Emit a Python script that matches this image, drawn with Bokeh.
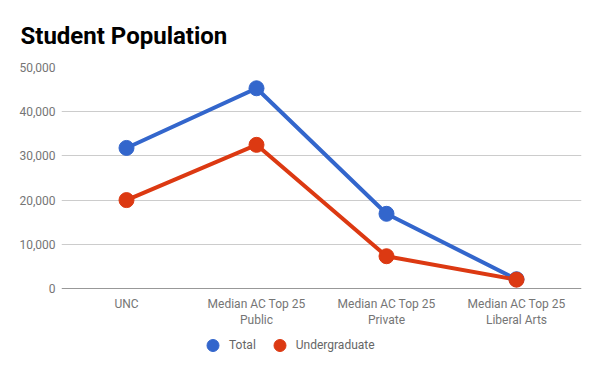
from bokeh.plotting import figure
from bokeh.layouts import column
from bokeh.models import (ColumnDataSource, FixedTicker, NumeralTickFormatter, Span,
                          Legend, LegendItem, Range1d)
from bokeh.embed import file_html
from bokeh.resources import INLINE

categories = ["UNC", "Median AC Top 25\nPublic", "Median AC Top 25\nPrivate",
              "Median AC Top 25\nLiberal Arts"]
series_names = ["Total", "Undergraduate"]
total = [31800, 45300, 16900, 2100]
undergraduate = [20000, 32500, 7300, 2000]
y_ticks = [0, 10000, 20000, 30000, 40000, 50000]

BLUE = "#3366cc"
RED = "#dc3912"
GRAY = "#757575"

xs = list(range(len(categories)))
src = ColumnDataSource(dict(x=xs, total=total, undergraduate=undergraduate))

p = figure(width=600, height=330, output_backend="svg", toolbar_location=None,
           x_range=Range1d(-0.5, len(categories) - 0.5), y_range=Range1d(0, 50000),
           min_border_left=61, min_border_right=19, min_border_top=67, min_border_bottom=41)

p.title.text = "Student Population"
p.title.text_font = "Roboto"
p.title.text_font_size = "24px"
p.title.text_font_style = "bold"
p.title.text_color = "#000000"
p.title.offset = -41
p.title.standoff = 36

p.outline_line_color = None

p.line("x", "total", source=src, line_color=BLUE, line_width=4)
p.line("x", "undergraduate", source=src, line_color=RED, line_width=4)
p.scatter("x", "total", source=src, size=15, fill_color=BLUE, line_color=BLUE)
p.scatter("x", "undergraduate", source=src, size=15, fill_color=RED, line_color=RED)

p.add_layout(Span(location=0, dimension="width", line_color="#333333", line_width=1))

p.yaxis.ticker = FixedTicker(ticks=y_ticks)
p.yaxis.formatter = NumeralTickFormatter(format="0,0")
p.yaxis.axis_line_color = None
p.yaxis.major_tick_line_color = None
p.yaxis.minor_tick_line_color = None
p.yaxis.major_tick_out = 0
p.yaxis.major_tick_in = 0
p.yaxis.minor_tick_out = 0
p.yaxis.major_label_text_font = "Roboto"
p.yaxis.major_label_text_font_size = "12px"
p.yaxis.major_label_text_color = GRAY
p.yaxis.major_label_standoff = 6

p.xaxis.ticker = FixedTicker(ticks=xs)
p.xaxis.major_label_overrides = {i: c for i, c in zip(xs, categories)}
p.xaxis.axis_line_color = None
p.xaxis.major_tick_line_color = None
p.xaxis.minor_tick_line_color = None
p.xaxis.major_tick_out = 0
p.xaxis.major_tick_in = 0
p.xaxis.minor_tick_out = 0
p.xaxis.major_label_text_font = "Roboto"
p.xaxis.major_label_text_font_size = "12px"
p.xaxis.major_label_text_color = GRAY
p.xaxis.major_label_standoff = 8

p.xgrid.grid_line_color = None
p.ygrid.grid_line_color = "#cccccc"
p.ygrid.ticker = FixedTicker(ticks=y_ticks)

# legend strip below the chart (its frame is aligned with the chart's frame)
lf = figure(width=600, height=41, output_backend="svg", toolbar_location=None,
            x_axis_location=None, y_axis_location=None, min_border=0,
            x_range=Range1d(0, 1), y_range=Range1d(0, 1))
lf.outline_line_color = None
lf.grid.grid_line_color = None
hidden = ColumnDataSource(dict(x=[-10], y=[-10]))
items = []
for name, col in zip(series_names, [BLUE, RED]):
    r = lf.scatter("x", "y", source=hidden, size=15, fill_color=col, line_color=col)
    items.append(LegendItem(label=name, renderers=[r]))
legend = Legend(items=items, orientation="horizontal", location=(135, 11),
                label_text_font="Roboto", label_text_font_size="12px",
                label_text_color="#666666", glyph_width=33, glyph_height=30,
                label_standoff=0, spacing=7, border_line_color=None,
                background_fill_alpha=0, padding=0, margin=0)
lf.add_layout(legend)

layout = column(p, lf, spacing=0)
open("out.html", "w").write(file_html(layout, INLINE))
